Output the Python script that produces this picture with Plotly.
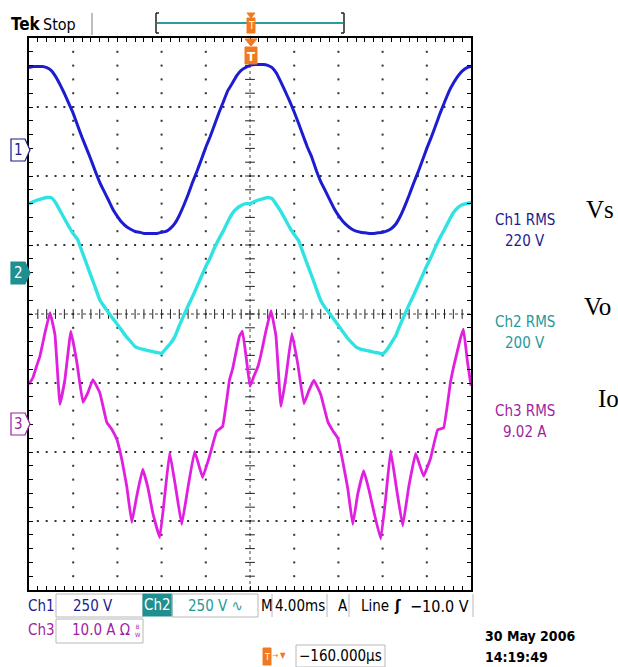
import plotly.graph_objects as go

# ---------------- data (read from the scope screen) ----------------
# time base: 4.00 ms/div, 10 div, trigger at centre; Ch1/Ch2 sampled every 0.4 ms
t_ms = [round(-20 + 0.4 * k, 1) for k in range(101)]

# Ch1 (Vs), volts, 250 V/div
ch1_v = [293, 297, 297, 297, 293, 283, 261, 232, 199, 163, 127, 83, 40, 0, -40, -83, -123, -156, -188, -221,
         -246, -268, -283, -293, -301, -304, -308, -308, -308, -308, -304, -301, -290, -272, -243, -207, -167,
         -123, -83, -40, 4, 43, 87, 130, 170, 210, 236, 264, 283, 293, 301,
         304, 304, 304, 301, 293, 272, 240, 206, 170, 132, 90, 47, 4, -33, -80, -120, -152, -185, -217, -243,
         -264, -280, -292, -300, -304, -306, -308, -308, -306, -304, -299, -290, -274, -246, -210, -170, -127,
         -87, -44, 0, 40, 83, 127, 167, 206, 236, 261, 280, 292, 297]

# Ch2 (Vo), volts, 250 V/div
ch2_v = [250, 257, 264, 268, 272, 272, 254, 225, 196, 167, 141, 120, 76, 33, -11, -54, -98, -123, -145, -167,
         -188, -210, -232, -250, -268, -275, -279, -283, -286, -290, -293, -275, -257, -232, -192, -156, -120,
         -87, -51, -14, 22, 54, 91, 123, 152, 185, 214, 232, 243, 250, 250,
         257, 264, 268, 272, 268, 246, 221, 192, 163, 138, 116, 72, 29, -14, -58, -101, -127, -148, -170, -192,
         -214, -236, -254, -270, -277, -281, -284, -288, -291, -295, -279, -254, -228, -188, -152, -116, -83,
         -47, -11, 25, 58, 94, 127, 156, 188, 217, 235, 246, 250, 254]

# Ch3 (Io), amps, 10 A/div  (own time points at the waveform's corners)
ch3_t = [-20.00, -19.64, -19.28, -19.01, -18.55, -18.10, -17.65, -17.20, -16.75, -16.21, -15.67, -15.12,
         -14.67, -14.22, -13.59, -12.96, -12.51, -12.05, -11.60, -11.15, -10.70, -10.25, -9.71, -9.25, -8.80,
         -8.17, -7.72, -7.27, -6.73, -6.18, -5.64, -5.01, -4.29, -3.66, -3.02, -2.48, -1.85, -1.58, -0.95,
         -0.68, -0.32,
         0.00, 0.36, 0.72, 0.99, 1.45, 1.90, 2.35, 2.80, 3.25, 3.79, 4.33, 4.88, 5.33, 5.78, 6.41, 7.04, 7.49,
         7.95, 8.40, 8.85, 9.30, 9.75, 10.29, 10.75, 11.20, 11.83, 12.28, 12.73, 13.27, 13.82, 14.36, 14.99,
         15.71, 16.34, 16.98, 17.52, 18.15, 18.42, 19.05, 19.32, 19.68, 20.00]
ch3_a = [5.8, 6.8, 8.6, 9.9, 13.3, 16.2, 13.0, 2.9, 6.5, 13.5, 9.0, 3.2, 4.6, 6.5, 4.6, 0.3, -0.7, -2.2, -5.1,
         -9.0, -14.2, -10.4, -6.5, -9.1, -12.8, -16.4, -10.4, -4.1, -9.1, -14.5, -9.4, -3.9, -7.7, -4.6, -1.0,
         -0.3, 6.5, 8.0, 12.8, 13.5, 9.4,
         5.5, 7.0, 8.4, 10.1, 13.6, 16.5, 12.8, 2.6, 6.8, 13.2, 8.7, 3.0, 4.9, 6.4, 4.3, 0.4, -0.9, -2.0, -5.4,
         -9.3, -14.5, -10.1, -6.7, -9.4, -12.6, -16.6, -10.7, -3.8, -9.4, -14.7, -9.1, -4.2, -7.5, -4.9, -0.8,
         -0.5, 6.2, 8.3, 12.5, 13.8, 9.1, 5.6]

# channel settings: volts(amps)/div and ground-marker position in divisions
CH1_SCALE, CH1_POS = 250, 2.4
CH2_SCALE, CH2_POS = 250, 0.6
CH3_SCALE, CH3_POS = 10, -1.6

rms_labels = [("Ch1 RMS", "220 V"), ("Ch2 RMS", "200 V"), ("Ch3 RMS", "9.02 A")]
signal_names = ["Vs", "Vo", "Io"]

# ---------------- styling ----------------
NARROW = "Liberation Sans Narrow, DejaVu Sans Condensed, Arial Narrow, sans-serif"
SERIF = "Liberation Serif, Times New Roman, serif"
C1, C2, C3 = "#1c1cd0", "#2fe3e3", "#e01fe0"
T1, T2, T3 = "#1c1c8c", "#1f9a9a", "#a01fa0"
TEAL_BG = "#1f8f8f"
ORANGE = "#f07a22"
BOXC = "#b8b8b8"

W, H = 618, 667
L, R, T, B = 29, 147, 38, 77
PW, PH = W - L - R, H - T - B


def PX(x):
    return (x - L) / PW


def PY(y):
    return (H - B - y) / PH


fig = go.Figure()

# ---------------- graticule ----------------
gx, gy = [], []
for d in [-4, -3, -2, -1, 1, 2, 3, 4]:
    xv = d * 4.0
    for j in range(-19, 20):
        gx.append(xv)
        gy.append(j * 0.2)
for d in [-3, -2, -1, 1, 2, 3]:
    for j in range(-24, 25):
        gx.append(j * 0.8)
        gy.append(d)
fig.add_trace(go.Scatter(x=gx, y=gy, mode="markers", hoverinfo="skip",
                         marker=dict(symbol="square", size=2, color="#333333", line=dict(width=0))))
# centre cross-hair
fig.add_trace(go.Scatter(x=[-20, 20], y=[0, 0], mode="lines", hoverinfo="skip",
                         line=dict(color="#444444", width=1, dash="dot")))
fig.add_trace(go.Scatter(x=[0, 0], y=[-4, 4], mode="lines", hoverinfo="skip",
                         line=dict(color="#444444", width=1, dash="dot")))
fig.add_trace(go.Scatter(x=[j * 0.8 for j in range(-24, 25)], y=[0] * 49, mode="markers", hoverinfo="skip",
                         marker=dict(symbol="line-ns", size=7, line=dict(color="#222222", width=1))))
fig.add_trace(go.Scatter(x=[0] * 39, y=[j * 0.2 for j in range(-19, 20)], mode="markers", hoverinfo="skip",
                         marker=dict(symbol="line-ew", size=7, line=dict(color="#222222", width=1))))

# ---------------- waveforms ----------------
fig.add_trace(go.Scatter(x=ch3_t, y=ch3_a, yaxis="y4", mode="lines", name="Io",
                         line=dict(color=C3, width=2.8, shape="spline", smoothing=0.25)))
fig.add_trace(go.Scatter(x=t_ms, y=ch2_v, yaxis="y3", mode="lines", name="Vo",
                         line=dict(color=C2, width=3.4, shape="spline", smoothing=0.3)))
fig.add_trace(go.Scatter(x=t_ms, y=ch1_v, yaxis="y2", mode="lines", name="Vs",
                         line=dict(color=C1, width=3.0, shape="spline", smoothing=0.3)))


def ch_range(scale, pos):
    return [(-4 - pos) * scale, (4 - pos) * scale]


axis_common = dict(showgrid=False, zeroline=False, showticklabels=False, fixedrange=True)
fig.update_layout(
    width=W, height=H, margin=dict(l=L, r=R, t=T, b=B),
    paper_bgcolor="white", plot_bgcolor="white", showlegend=False,
    xaxis=dict(range=[-20, 20], ticks="inside", dtick=0.8, tick0=0, ticklen=4, tickwidth=1,
               tickcolor="black", showline=True, linewidth=2, linecolor="black", mirror="ticks",
               **axis_common),
    yaxis=dict(range=[-4, 4], ticks="inside", dtick=0.2, tick0=0, ticklen=4, tickwidth=1,
               tickcolor="black", showline=True, linewidth=2, linecolor="black", mirror="ticks",
               **axis_common),
    yaxis2=dict(range=ch_range(CH1_SCALE, CH1_POS), overlaying="y", visible=False, **axis_common),
    yaxis3=dict(range=ch_range(CH2_SCALE, CH2_POS), overlaying="y", visible=False, **axis_common),
    yaxis4=dict(range=ch_range(CH3_SCALE, CH3_POS), overlaying="y", visible=False, **axis_common),
)

shapes, annos = [], []


def text(s, x, y, size, color, xa="left", fam=NARROW, ya="middle"):
    annos.append(dict(text=s, x=PX(x), y=PY(y), xref="paper", yref="paper", xanchor=xa, yanchor=ya,
                      showarrow=False, borderpad=0, font=dict(family=fam, size=size, color=color)))


def rect(x0, y0, x1, y1, line=BOXC, fill="rgba(0,0,0,0)", width=1):
    shapes.append(dict(type="rect", xref="paper", yref="paper", x0=PX(x0), x1=PX(x1), y0=PY(y1), y1=PY(y0),
                       line=dict(color=line, width=width), fillcolor=fill, layer="above"))


def seg(x0, y0, x1, y1, color, width=1):
    shapes.append(dict(type="line", xref="paper", yref="paper", x0=PX(x0), x1=PX(x1), y0=PY(y0), y1=PY(y1),
                       line=dict(color=color, width=width), layer="above"))


def path(pts, line, fill, width=1):
    d = "M " + " L ".join(f"{PX(a):.5f},{PY(b):.5f}" for a, b in pts) + " Z"
    shapes.append(dict(type="path", xref="paper", yref="paper", path=d, line=dict(color=line, width=width),
                       fillcolor=fill, layer="above"))


# ---- header ----
text("<b>Tek</b>", 10, 24, 17, "black")
text("Stop", 42, 24, 16, "black")
seg(92, 13, 92, 35, "#a8a8a8", 1.5)
seg(156, 13, 156, 33, "#222222", 1.5)
seg(156, 13, 159, 13, "#222222", 1.5)
seg(156, 33, 159, 33, "#222222", 1.5)
seg(157, 23, 343, 23, "#2a9d9d", 2)
seg(344, 13, 344, 33, "#222222", 1.5)
seg(341, 13, 344, 13, "#222222", 1.5)
seg(341, 33, 344, 33, "#222222", 1.5)
path([(247, 13), (255, 13), (251, 18)], ORANGE, ORANGE)
rect(247, 18, 255, 33, line=ORANGE, fill=ORANGE)
text("T", 251, 26, 10, "white", xa="center")

# ---- trigger marker at graticule top ----
path([(245, 39), (257, 39), (251, 46)], ORANGE, ORANGE)
rect(245, 47, 257, 64, line=ORANGE, fill=ORANGE)
text("<b>T</b>", 251, 56, 13, "white", xa="center")

# ---- channel ground markers ----
for (yc, lc, fc, tc, lab) in [(150, T1, "white", T1, "1"), (273, TEAL_BG, TEAL_BG, "white", "2"),
                              (424, T3, "white", T3, "3")]:
    path([(11, yc - 11), (25, yc - 11), (30, yc), (25, yc + 11), (11, yc + 11)], lc, fc, 1.2)
    text(lab, 18.5, yc, 15, tc, xa="center")

# ---- RMS readouts ----
for (l1, l2), yc, col in zip(rms_labels, [220, 322, 411], [T1, T2, T3]):
    text(l1, 525, yc, 15, col, xa="center")
    text(l2, 525, yc + 21, 15, col, xa="center")
for name, (xx, yy) in zip(signal_names, [(585, 209), (583, 306), (597, 398)]):
    text(name, xx, yy, 25, "black", fam=SERIF)

# ---- bottom status bar ----
FS = 15
text("Ch1", 27, 606, FS, T1)
rect(56, 594, 143, 617)
text("250 V", 93, 606, FS, T1, xa="center")
rect(143, 594, 172, 616, line=TEAL_BG, fill=TEAL_BG)
text("Ch2", 157.5, 605, FS, "white", xa="center")
rect(172, 594, 258, 617)
text("250 V ∿", 215, 606, FS, T2, xa="center")
text("M", 260, 606, FS, "black")
seg(272, 594, 272, 617, BOXC)
text("4.00ms", 299.5, 606, FS, "black", xa="center")
seg(327, 594, 327, 617, BOXC)
text("A", 343, 606, FS, "black", xa="center")
seg(349, 594, 349, 617, BOXC)
text("Line", 360, 606, FS, "black")
text("<b>ʃ</b>", 397, 606, FS, "black", xa="center")
text("−10.0 V", 470, 606, 16, "black", xa="right")
seg(473, 594, 473, 617, BOXC)

text("Ch3", 27, 630, FS, T3)
rect(56, 619, 143, 643)
text("10.0 A Ω", 71, 630, FS, T3)
text("B<br>W", 138, 630, 6, T3, xa="center")

rect(263, 648, 271, 665, line=ORANGE, fill=ORANGE)
text("T", 267, 656.5, 9, "white", xa="center")
text("→", 275, 655, 8, ORANGE, xa="center")
text("▼", 283, 655, 8, ORANGE, xa="center")
rect(296, 645, 385, 667)
text("−160.000µs", 340.5, 656, 15, "black", xa="center")

text("<b>30 May 2006</b>", 484, 636, 14, "black")
text("<b>14:19:49</b>", 484, 657, 14, "black")

fig.update_layout(shapes=shapes, annotations=annos)
fig.write_html("out.html", config={"displayModeBar": False},
               post_script="document.body.style.margin='0';document.body.style.padding='0';"
                           "document.body.style.overflow='hidden';")
